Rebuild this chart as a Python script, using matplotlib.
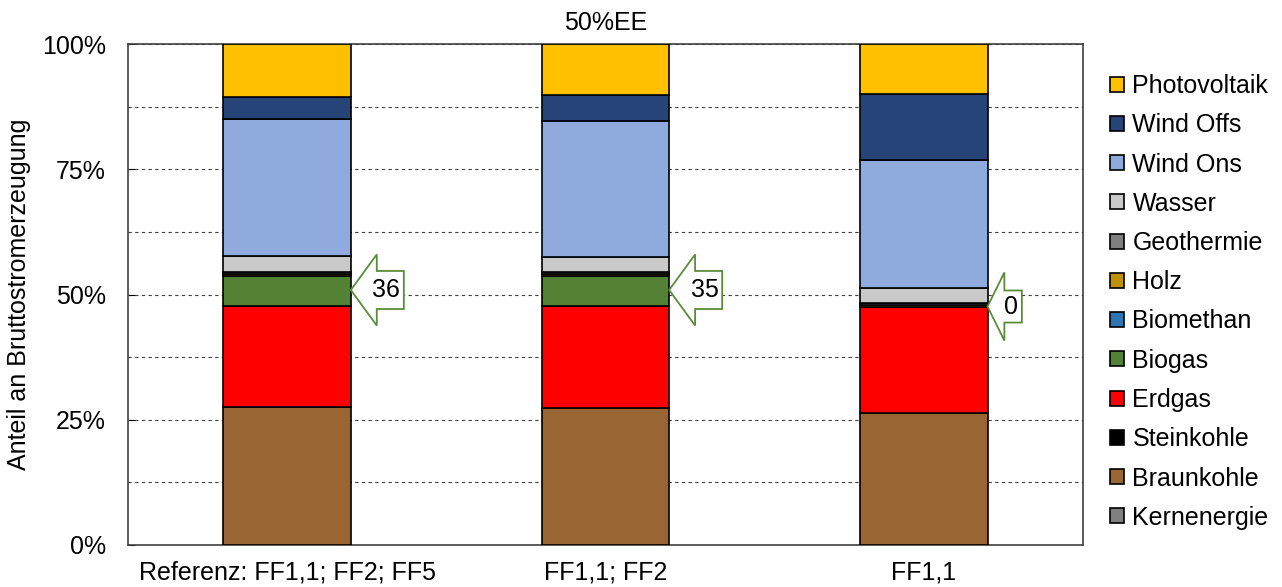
import numpy as np
import matplotlib
matplotlib.use('Agg')
import matplotlib.pyplot as plt
from matplotlib.patches import Polygon
from matplotlib.ticker import FuncFormatter, MultipleLocator

plt.rcParams['font.family'] = ['Liberation Sans', 'DejaVu Sans']

# ========================= DATEN =========================
categories = ["Referenz: FF1,1; FF2; FF5", "FF1,1; FF2", "FF1,1"]
title = "50%EE"

# Stapelreihenfolge von unten nach oben (Anteile in %)
sources = ["Kernenergie", "Braunkohle", "Steinkohle", "Erdgas", "Biogas",
           "Biomethan", "Holz", "Geothermie", "Wasser", "Wind Ons",
           "Wind Offs", "Photovoltaik"]
kernenergie = [0.0, 0.0, 0.0]
braunkohle = [27.5, 27.3, 26.3]
steinkohle = [0.0, 0.0, 0.0]
erdgas = [20.2, 20.4, 21.3]
biogas = [6.0, 6.0, 0.0]
biomethan = [0.0, 0.0, 0.0]
holz = [0.4, 0.4, 0.4]
geothermie = [0.4, 0.4, 0.4]
wasser = [3.1, 3.0, 2.9]
wind_ons = [27.5, 27.1, 25.5]
wind_offs = [4.4, 5.2, 13.2]
photovoltaik = [10.5, 10.2, 10.0]

callout_values = [36, 35, 0]

colors = {
    "Kernenergie": "#808080",
    "Braunkohle": "#996633",
    "Steinkohle": "#000000",
    "Erdgas": "#FF0000",
    "Biogas": "#548235",
    "Biomethan": "#2E75B6",
    "Holz": "#BF9000",
    "Geothermie": "#7F7F7F",
    "Wasser": "#C9C9C9",
    "Wind Ons": "#8FAADC",
    "Wind Offs": "#264478",
    "Photovoltaik": "#FFC000",
}

series = [kernenergie, braunkohle, steinkohle, erdgas, biogas, biomethan,
          holz, geothermie, wasser, wind_ons, wind_offs, photovoltaik]

# ========================= PLOT =========================
fig = plt.figure(figsize=(12.82, 5.87), dpi=100)
ax = fig.add_axes([128 / 1282, 1 - 545 / 587, (1083 - 128) / 1282, (545 - 44) / 587])

x = np.arange(len(categories))
width = 0.4
bottom = np.zeros(len(categories))
handles = {}
for name, vals in zip(sources, series):
    vals = np.array(vals)
    h = ax.bar(x, vals, width, bottom=bottom, color=colors[name],
               edgecolor='black', linewidth=1.2, label=name, zorder=3)
    handles[name] = h
    bottom += vals

ax.set_xlim(-0.5, len(categories) - 0.5)
ax.set_ylim(0, 100)
ax.yaxis.set_major_locator(MultipleLocator(25))
ax.yaxis.set_minor_locator(MultipleLocator(12.5))
ax.yaxis.set_major_formatter(FuncFormatter(lambda v, p: f"{v:.0f}%"))
ax.grid(True, axis='y', which='both', linestyle=(0, (3, 3)), color='#404040',
        linewidth=0.8, zorder=0)
ax.tick_params(axis='y', which='major', direction='in', length=5,
               labelsize=18, pad=16)
ax.tick_params(axis='y', which='minor', length=0)
ax.tick_params(axis='x', length=0, labelsize=18, pad=11)
ax.set_xticks(x)
ax.set_xticklabels(categories)
for s in ax.spines.values():
    s.set_color('#404040')
    s.set_linewidth(1.2)

ax.set_ylabel("Anteil an Bruttostromerzeugung", fontsize=18, labelpad=8)
ax.set_title(title, fontsize=18, pad=10)

# Pfeil-Callouts (Pfeil nach links, zeigt auf den Balken)
tip_y = [50.9, 50.9, 47.6]
shapes = [(0.0815, 0.085, 7.1, 3.8), (0.0815, 0.085, 7.1, 3.8),
          (0.053, 0.055, 6.8, 3.2)]
for i, (val, yc, (hw, bw, hh, bh)) in enumerate(zip(callout_values, tip_y, shapes)):
    x0 = x[i] + width / 2
    pts = [(x0, yc), (x0 + hw, yc + hh), (x0 + hw, yc + bh),
           (x0 + hw + bw, yc + bh), (x0 + hw + bw, yc - bh),
           (x0 + hw, yc - bh), (x0 + hw, yc - hh)]
    ax.add_patch(Polygon(pts, closed=True, facecolor='white',
                         edgecolor='#5B8C3A', linewidth=1.3, zorder=5))
    ax.text(x0 + hw * 0.35 + (hw + bw) * 0.5, yc, str(val),
            ha='center', va='center', fontsize=18, zorder=6)

legend_order = sources[::-1]
leg = ax.legend([handles[n] for n in legend_order], legend_order,
                loc='upper left', bbox_to_anchor=(1110 / 1282, 1 - 74 / 587),
                bbox_transform=fig.transFigure, frameon=False, fontsize=18,
                handlelength=0.55, handleheight=0.55, handletextpad=0.35,
                labelspacing=0.61, borderpad=0, borderaxespad=0)

fig.savefig("out.png", dpi=100)
